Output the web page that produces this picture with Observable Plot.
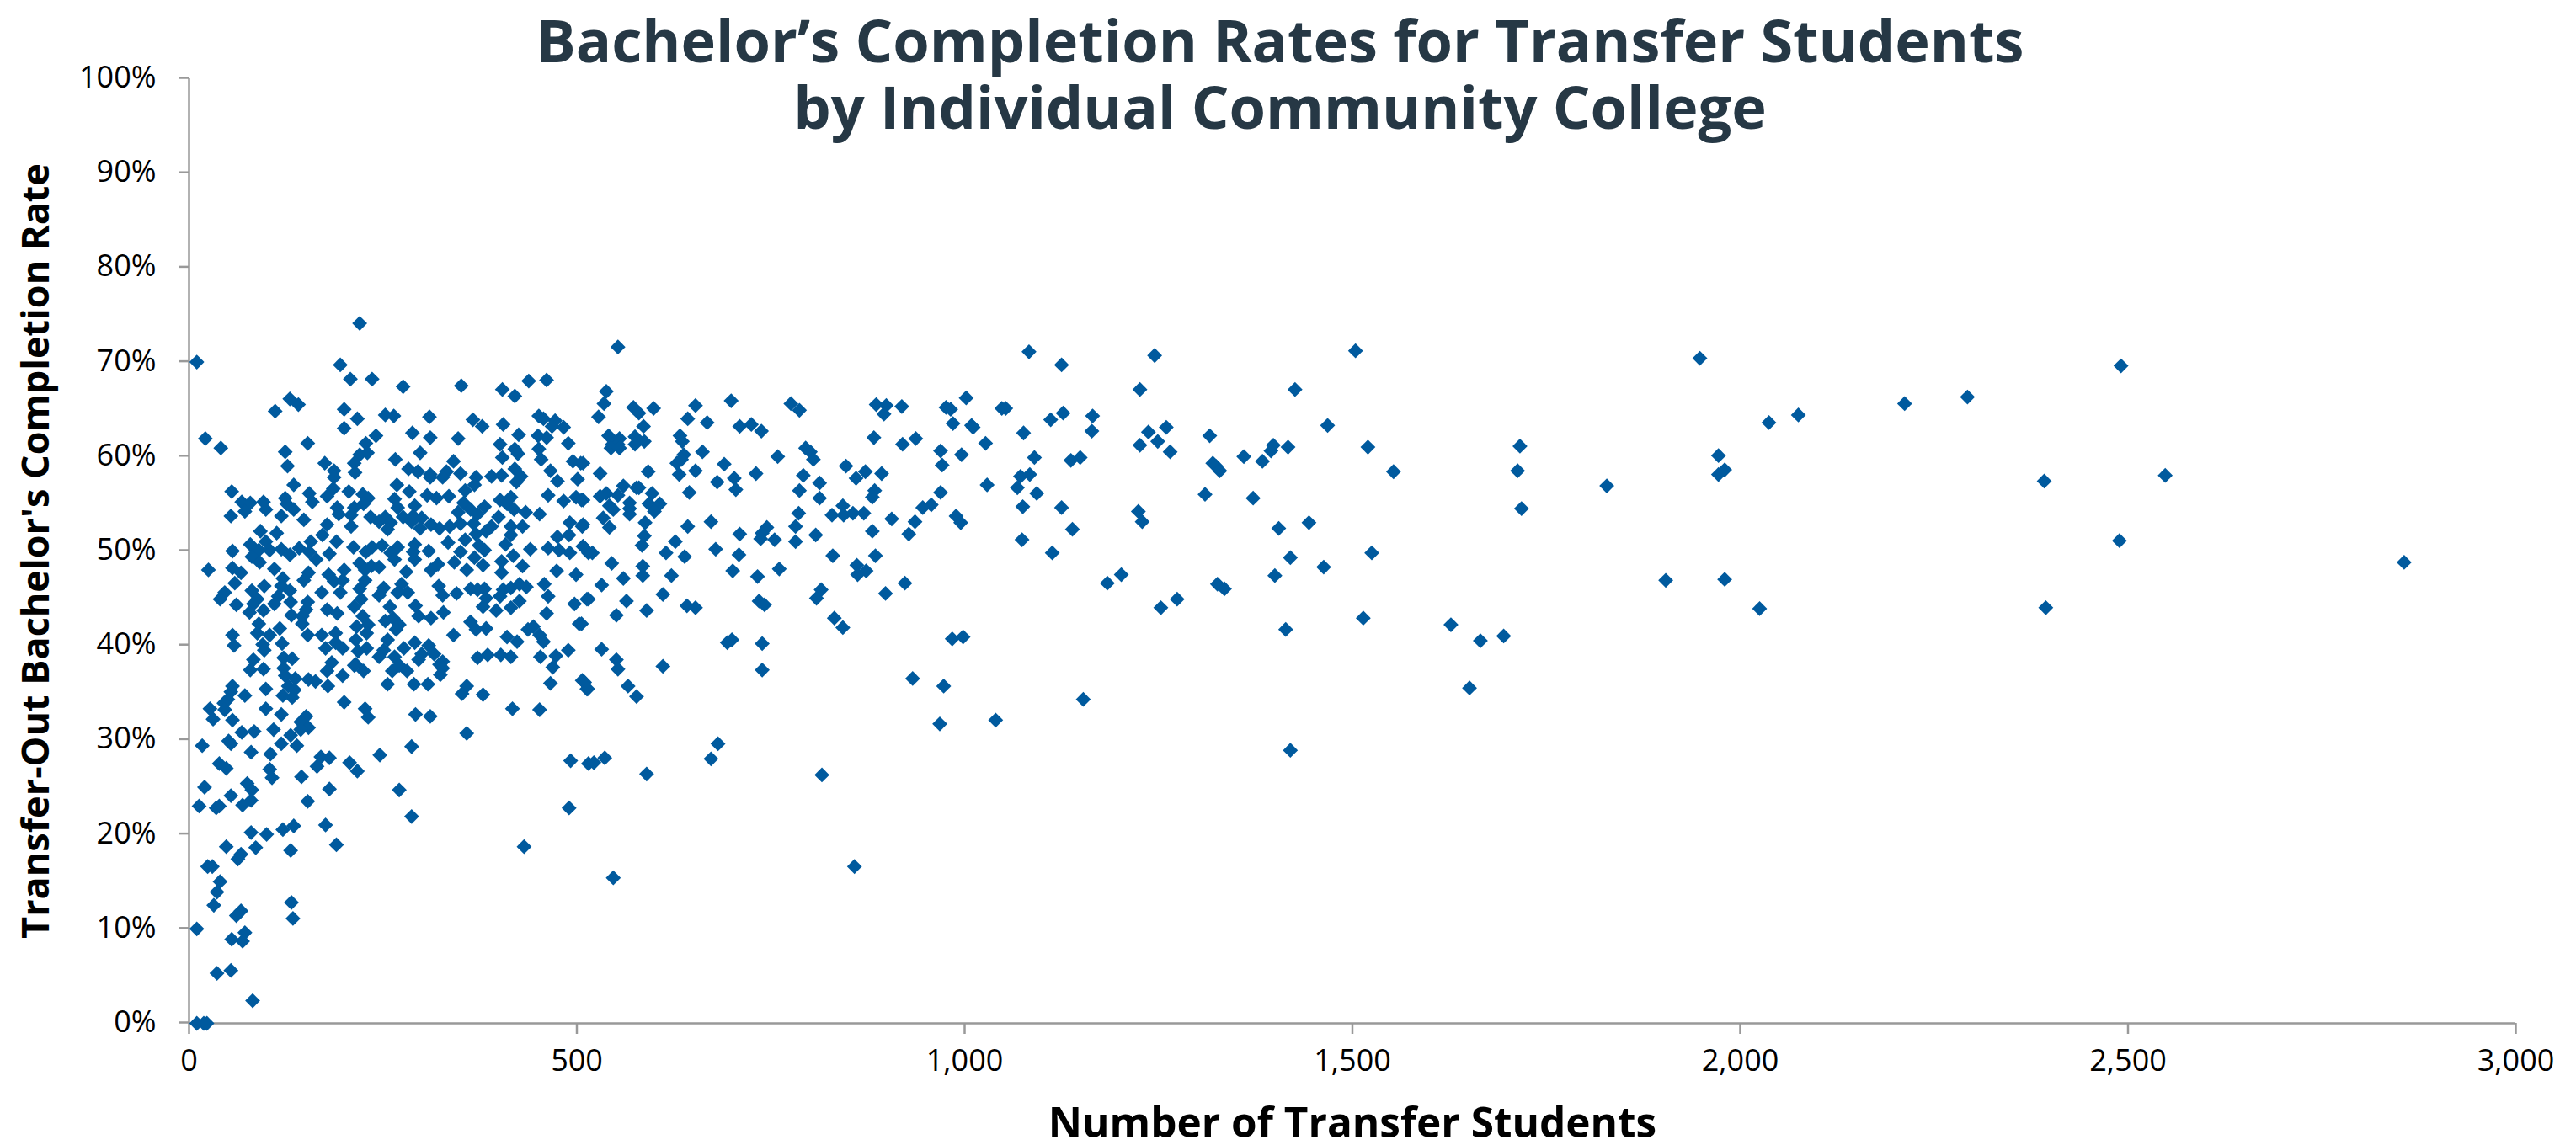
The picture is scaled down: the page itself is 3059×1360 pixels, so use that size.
<!DOCTYPE html>
<html>
<head>
<meta charset="utf-8">
<script src="https://cdn.jsdelivr.net/npm/d3@7"></script>
<script src="https://cdn.jsdelivr.net/npm/@observablehq/plot@0.6"></script>
<style>html,body{margin:0;padding:0;background:#fff}svg{display:block}</style>
</head>
<body>
<div id="chart"></div>
<script>
const titleText = "Bachelor\u2019s Completion Rates for Transfer Students\nby Individual Community College";
const xLabel = "Number of Transfer Students";
const yLabel = "Transfer-Out Bachelor's Completion Rate";
const xTicks = [0, 500, 1000, 1500, 2000, 2500, 3000];
const yTicks = [0, 10, 20, 30, 40, 50, 60, 70, 80, 90, 100];

// [transfer students, completion rate %]
const collegesUpperSmall = [
[220,74.1],[10,70],[195,69.7],[208,68.2],[236,68.2],[276,67.4],[351,67.5],[404,67.1],[420,66.4],[438,68],[461,68.1],[130,66.1],[141,65.5],[111,64.8],[200,65],[217,64],[253,64.4],[264,64.3],[310,64.2],[366,63.9],[378,63.2],[405,63.4],[451,64.3],[457,64],[472,63.8],[468,63.2],[483,63.1],[21,61.9],[41,60.9],[200,63],[241,62.2],[288,62.5],[311,62],[347,61.9],[425,62.3],[450,62.2],[461,62],[401,61.3],[489,61.4],[153,61.4],[228,61.4],[230,60.4],[220,60.2],[420,60.8],[424,60.3],[451,60.8],[124,60.5],[298,60.4],[266,59.7],[404,59.9],[454,59.7],[127,59],[175,59.3],[213,59.3],[341,59.5],[495,59.5],[505,59.3],[187,58.5],[283,58.7],[295,58.4],[311,58.1],[332,58.4],[350,58.2],[370,57.8],[390,57.9],[403,58],[420,58.7],[428,57.9],[466,58.5],[214,58.3],[187,57.8],[311,57.8],[327,57.8],[475,57.4],[501,57.6],[422,57.3],[135,57],[268,57],[368,57],[356,56.4],[55,56.3],[284,56.3],[186,56.6],[155,56.1],[206,56.3],[224,56],[124,55.6],[178,55.8],[307,55.9],[319,55.6],[335,55.8],[463,55.9],[415,55.7],[401,55.4],[499,55.7],[506,55.4],[483,55.3],[265,55.5],[68,55.2],[79,55.1],[96,55.2],[159,55.2],[231,55.6],[225,55],[126,55],[135,54.4],[99,54.4],[269,54.6],[291,54.8],[354,55.1],[381,54.7],[410,55],[419,54.4],[191,54.6],[213,54.6],[72,54.2],[434,54.1],[452,53.9],[363,54.4],[347,54.1],[54,53.7],[119,53.7],[193,53.9],[209,53.8],[234,53.6],[253,53.6],[289,53.7],[276,53.6],[300,53.5],[372,53.9],[399,53.6],[148,53.3],[245,53.1],[260,53],[287,53.1],[491,53],[350,52.9],[367,52.9],[178,52.8],[209,52.6],[256,52.3],[298,52.4],[312,52.8],[323,52.4],[336,52.6],[390,52.6],[430,52.6],[415,52.6],[507,52.6],[92,52.1],[383,52.1],[113,51.9],[172,51.7],[370,51.8],[415,51.7],[475,51.5],[490,51.7],[190,51],[157,51],[356,51.2],[408,50.7],[334,50.9],[79,50.7],[99,51],[291,50.7],[249,50.6],[236,50.4],[212,50.4],[269,50.4],[374,50.6],[508,50.5]
];
const collegesMiddleSmall = [
[56,50],[90,50.1],[104,50.1],[119,50.2],[130,49.6],[142,50.3],[155,49.9],[228,49.9],[260,49.8],[309,50],[289,49.9],[350,49.9],[381,50.1],[440,50.2],[463,50.3],[477,50.1],[491,49.8],[515,49.8],[81,49.4],[181,49.7],[418,49.5],[164,49.1],[368,49.3],[291,49.1],[265,49.1],[220,48.7],[91,48.8],[342,48.8],[403,48.9],[25,48],[56,48.2],[110,48.1],[235,48.4],[245,48.3],[227,48],[321,48.6],[312,48],[379,48.5],[430,48.4],[67,47.7],[200,48],[280,47.8],[358,48],[403,47.7],[474,47.9],[499,47.5],[154,47.7],[180,47.5],[59,46.6],[121,47.1],[148,46.9],[198,46.9],[227,46.9],[187,46.8],[274,46.5],[119,46.3],[97,46.3],[322,46.3],[458,46.5],[220,46],[251,46.1],[363,46],[381,46],[372,45.9],[405,45.9],[426,46.5],[435,46.2],[415,46.1],[130,45.8],[81,45.8],[46,45.6],[171,45.6],[195,45.6],[282,45.6],[345,45.5],[269,45.6],[245,45.3],[327,45.3],[401,45.2],[463,45.2],[115,45.2],[40,44.9],[88,44.9],[153,44.6],[222,44.9],[383,45],[515,44.9],[110,44.4],[131,44.6],[61,44.3],[83,44.4],[213,44.1],[292,44.2],[379,44.1],[426,44.7],[415,44],[497,44.4],[259,44.1],[78,43.5],[96,43.7],[178,43.8],[191,43.4],[328,43.5],[396,43.7],[461,43.4],[224,43.1],[151,43.8],[296,43.1],[312,42.9],[132,43.2],[146,43.1],[253,42.6],[263,42.9],[363,42.5],[90,42.3],[146,42.3],[216,42],[271,42.2],[231,42.2],[503,42.3],[437,41.7],[444,42],[117,41.8],[267,41.7],[370,41.7],[383,41.8],[88,41.3],[104,41.1],[56,41.1],[153,41.1],[171,41.1],[189,41.3],[229,41.3],[341,41.1],[410,40.9],[452,41.1],[215,40.6],[256,40.6],[291,40.3],[95,40.1],[120,40.2],[309,40],[189,40.3],[423,40.4],[58,40],[176,39.7],[198,39.7],[229,39.7],[251,39.5],[277,39.7],[218,39.4],[97,39.5],[457,40.4],[489,39.5],[300,39.1],[316,39.1],[473,38.9],[372,38.7],[385,39],[402,39],[415,38.8],[453,38.8],[83,38.5],[122,38.7],[133,38.6],[245,38.8],[265,38.8],[327,38.3],[184,38.2],[215,38],[296,38.5]
];
const collegesLowerSmall = [
[79,37.4],[96,37.5],[122,37.6],[178,37.3],[213,37.9],[225,37.3],[262,37.3],[271,37.9],[281,37.3],[323,38],[327,37.6],[324,36.9],[469,37.7],[124,36.8],[137,36.5],[154,36.4],[163,36.2],[198,36.8],[128,35.7],[136,35.3],[56,35.7],[54,35.1],[99,35.4],[72,34.7],[179,35.7],[256,35.9],[290,35.9],[308,35.9],[466,36],[507,36.3],[513,35.4],[358,35.7],[352,34.9],[379,34.8],[121,34.7],[133,34.5],[50,34.3],[200,34],[45,33.9],[27,33.3],[46,33.2],[99,33.3],[227,33.3],[417,33.3],[452,33.2],[119,32.7],[231,32.4],[292,32.7],[311,32.5],[31,32.2],[56,32.1],[151,32.5],[144,31.9],[109,31.1],[68,30.8],[84,30.9],[154,31.3],[144,31.1],[131,30.5],[358,30.7],[17,29.4],[51,29.9],[54,29.6],[119,29.6],[139,29.4],[80,28.7],[287,29.3],[105,28.5],[246,28.4],[170,28.2],[181,28.1],[39,27.5],[48,27],[165,27.2],[207,27.6],[217,26.7],[104,26.9],[107,26],[145,26.1],[75,25.4],[20,25],[81,24.7],[181,24.8],[271,24.7],[54,24.1],[80,23.6],[153,23.5],[13,23],[35,22.8],[39,23],[69,23.1],[287,21.9],[490,22.8],[492,27.8],[515,27.5],[176,21],[135,20.9],[121,20.5],[80,20.2],[100,20],[48,18.7],[86,18.6],[131,18.3],[190,18.9],[432,18.7],[67,17.9],[63,17.4],[24,16.6],[30,16.6],[40,15],[36,13.9],[32,12.5],[67,11.9],[61,11.4],[132,12.8],[134,11.1],[10,10],[72,9.6],[55,8.9],[69,8.7],[36,5.3],[54,5.6],[82,2.4],[10,0],[19,0],[23,0]
];
const collegesMidSize = [
[553,71.6],[538,66.9],[535,65.6],[528,64.2],[573,65.2],[580,64.6],[599,65.1],[653,65.4],[643,64],[668,63.6],[699,65.9],[776,65.6],[787,64.9],[886,65.5],[899,65.4],[896,64.5],[919,65.3],[976,65.2],[982,65],[1002,66.2],[1048,65.1],[586,63.2],[710,63.2],[725,63.4],[738,62.7],[985,63.5],[1009,63.3],[1011,63.1],[541,62.2],[555,61.9],[633,62.2],[575,62.1],[883,62],[937,61.9],[920,61.3],[1027,61.4],[546,61.3],[553,61.3],[575,61.3],[587,61.6],[636,61.6],[544,60.9],[555,60.9],[795,60.9],[801,60.5],[662,60.5],[638,60.2],[969,60.6],[805,59.7],[759,60],[996,60.2],[629,59.3],[635,59.7],[690,59.2],[971,59.1],[847,59],[508,59.3],[530,58.2],[592,58.4],[632,58.1],[653,58.5],[731,58.2],[792,58],[872,58.4],[893,58.2],[860,57.7],[560,56.9],[577,56.7],[580,56.7],[703,57.7],[681,57.3],[813,57.2],[884,56.4],[1029,57],[969,56.2],[597,56.1],[645,56.2],[705,56.5],[787,56.4],[538,56.1],[530,55.8],[553,55.9],[881,55.7],[813,55.6],[957,54.9],[946,54.6],[568,55.1],[593,55],[607,55],[542,54.8],[508,55.4],[843,54.8],[786,54],[568,54.5],[600,54.2],[547,54.4],[829,53.8],[844,53.8],[856,54],[870,54],[568,53.9],[989,53.7],[534,53.5],[995,53],[906,53.4],[936,53.1],[673,53.1],[588,53],[508,52.8],[643,52.6],[542,52.5],[782,52.6],[881,52.1],[745,52.5],[587,51.6],[710,51.8],[739,51.9],[928,51.8],[808,51.7],[755,51.2],[737,51.3],[627,51],[782,51],[584,50.6],[508,50.5],[520,49.8],[615,49.8],[679,50.2],[639,49.4],[709,49.6],[830,49.5],[885,49.5],[545,48.7],[585,48.4],[861,48.5],[873,47.9],[862,47.5],[761,48.1],[585,47.4],[560,47.1],[622,47.4],[701,47.9],[733,47.3],[532,46.4],[923,46.6],[815,45.9],[809,45],[898,45.5],[513,44.9],[564,44.7],[611,45.4],[642,44.2],[653,44],[590,43.7],[551,43.2],[735,44.7],[742,44.3],[832,42.9],[843,41.9],[506,42.3],[694,40.3],[700,40.6],[739,40.2],[984,40.7],[998,40.9],[532,39.6],[551,38.5],[553,37.5],[611,37.8],[739,37.4],[933,36.5],[973,35.7],[566,35.7],[577,34.6],[510,36.1],[514,35.4],[682,29.6],[673,28],[522,27.6],[536,28.1],[590,26.4],[816,26.3],[547,15.4],[858,16.6],[968,31.7],[1040,32.1]
];
const collegesLarge = [
[1083,71.1],[1125,69.7],[1245,70.7],[1504,71.2],[1226,67.1],[1426,67.1],[1053,65.1],[1127,64.6],[1111,63.9],[1165,64.3],[1164,62.7],[1076,62.5],[1468,63.3],[1237,62.6],[1260,63.1],[1249,61.6],[1226,61.2],[1265,60.5],[1316,62.2],[1090,59.9],[1149,59.9],[1137,59.6],[1398,61.2],[1395,60.6],[1417,61],[1360,60],[1384,59.5],[1520,61],[1320,59.3],[1324,59],[1329,58.5],[1553,58.4],[1072,57.9],[1084,58.1],[1068,56.7],[1093,56.1],[1310,56],[1372,55.6],[1075,54.7],[1125,54.6],[1224,54.2],[1229,53.1],[1139,52.3],[1074,51.2],[1113,49.8],[1444,53],[1405,52.4],[1420,49.3],[1400,47.4],[1463,48.3],[1525,49.8],[1202,47.5],[1184,46.6],[1274,44.9],[1253,44],[1326,46.5],[1335,46],[1514,42.9],[1414,41.7],[1153,34.3],[1420,28.9],
[1948,70.4],[1716,61.1],[1713,58.5],[1718,54.5],[1828,56.9],[1972,60.1],[1980,58.6],[1972,58.1],[2037,63.6],[2075,64.4],[1904,46.9],[1980,47],[2025,43.9],[1627,42.2],[1665,40.5],[1695,41],[1651,35.5],
[2212,65.6],[2293,66.3],[2491,69.6],[2392,57.4],[2548,58],[2489,51.1],[2856,48.8],[2394,44]
];

const colleges = [...collegesUpperSmall, ...collegesMiddleSmall, ...collegesLowerSmall, ...collegesMidSize, ...collegesLarge]
  .map(([students, rate]) => ({students, rate}));

const fontFamily = "'Open Sans', Lato, sans-serif";
const axisGrey = "#999999";
const dotBlue = "#005A9E";

const plot = Plot.plot({
  width: 3059,
  height: 1360,
  marginLeft: 224,
  marginRight: 72,
  marginTop: 93,
  marginBottom: 145,
  style: {fontFamily, background: "#fff", color: "#000"},
  x: {domain: [0, 3000]},
  y: {domain: [0, 100]},
  marks: [
    Plot.axisX({ticks: xTicks, tickSize: 13, tickPadding: 18, stroke: axisGrey, strokeWidth: 2.5, strokeOpacity: 1, tickFormat: d3.format(","), fontSize: 36, label: null, fill: "#000", lineAnchor: "top"}),
    Plot.axisY({ticks: yTicks, tickSize: 12, tickPadding: 27, stroke: axisGrey, strokeWidth: 2.5, strokeOpacity: 1, tickFormat: d => d + "%", fontSize: 36, label: null, fill: "#000", dy: -1}),
    Plot.ruleX([0], {stroke: axisGrey, strokeWidth: 2.5}),
    Plot.ruleY([0], {stroke: axisGrey, strokeWidth: 2.5}),
    Plot.dot(colleges, {x: "students", y: "rate", symbol: "diamond2", r: 8, fill: dotBlue, stroke: "none", clip: false}),
    Plot.text([titleText], {frameAnchor: "top", lineAnchor: "middle", dx: -86, dy: -5, fontSize: 70.3, fontWeight: 700, fill: "#263845", lineHeight: 1.11}),
    Plot.text([yLabel], {frameAnchor: "left", textAnchor: "middle", rotate: -90, dx: -181, fontSize: 45, fontWeight: 700, fill: "#000"}),
    Plot.text([xLabel], {frameAnchor: "bottom", lineAnchor: "middle", dy: 120, fontSize: 49.5, fontWeight: 700, fill: "#000"})
  ]
});
document.getElementById("chart").appendChild(plot);
</script>
</body>
</html>
